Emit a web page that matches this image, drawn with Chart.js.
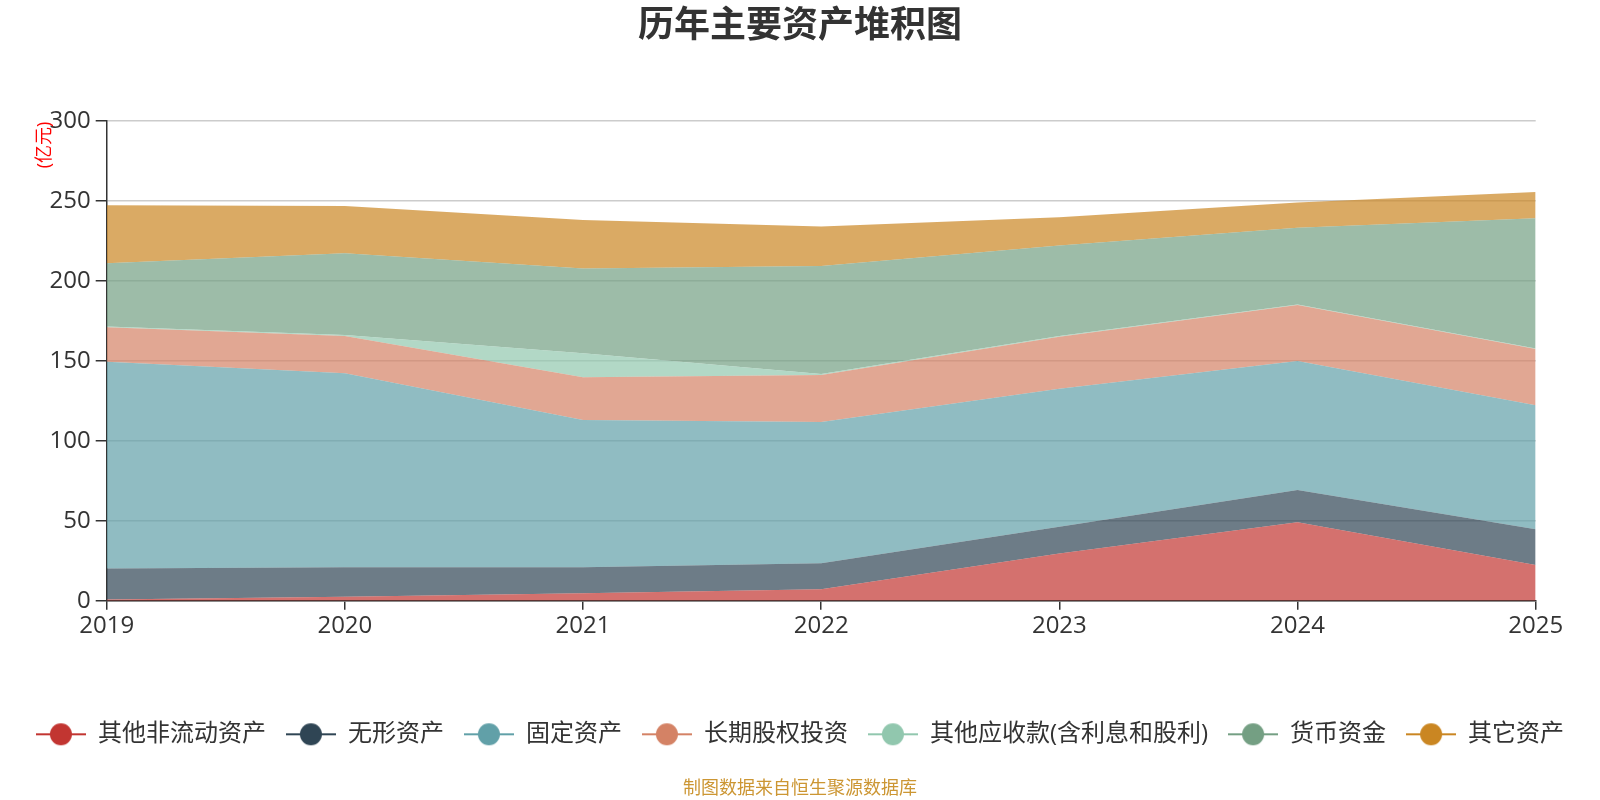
<!DOCTYPE html>
<html>
<head>
<meta charset="utf-8">
<script src="https://cdn.jsdelivr.net/npm/chart.js@4/dist/chart.umd.min.js"></script>
<style>
  html, body { margin: 0; padding: 0; background: #fff; }
  #wrap { width: 1600px; height: 800px; }
</style>
</head>
<body>
<div id="wrap"><canvas id="assetChart" width="1600" height="800"></canvas></div>
<script>
var years = ['2019', '2020', '2021', '2022', '2023', '2024', '2025'];
var seriesNames = ['其他非流动资产', '无形资产', '固定资产', '长期股权投资', '其他应收款(含利息和股利)', '货币资金', '其它资产'];
var seriesColors = ['#c23531', '#2f4554', '#61a0a8', '#d48265', '#91c7ae', '#749f83', '#ca8622'];

// 亿元
var otherNonCurrent = [0.8, 2.5, 4.6, 7.1, 29.5, 49.0, 22.3];
var intangible      = [19.4, 18.4, 16.3, 16.3, 16.7, 20.2, 22.3];
var fixedAssets     = [129.2, 121.2, 92.0, 88.3, 86.3, 80.6, 77.5];
var lteInvest       = [21.5, 23.3, 26.7, 29.4, 32.5, 35.0, 35.2];
var otherRecv       = [0.5, 0.6, 15.0, 0.6, 0.4, 0.3, 0.4];
var cash            = [39.5, 51.1, 53.1, 67.5, 56.6, 48.0, 81.3];
var otherAssets     = [36.2, 29.6, 30.2, 24.6, 17.7, 15.7, 16.4];
var yTicks = [0, 50, 100, 150, 200, 250, 300];

var seriesValues = [otherNonCurrent, intangible, fixedAssets, lteInvest, otherRecv, cash, otherAssets];
var FONT = "'Open Sans', 'Noto Sans CJK SC', sans-serif";

function alpha(hex, a) {
    var n = parseInt(hex.slice(1), 16);
    return 'rgba(' + (n >> 16) + ',' + ((n >> 8) & 255) + ',' + (n & 255) + ',' + a + ')';
}

// legend icon: line with a dot in the middle
function legendIcon(color) {
    var c = document.createElement('canvas');
    c.width = 50; c.height = 24;
    var g = c.getContext('2d');
    g.strokeStyle = color;
    g.lineWidth = 2;
    g.beginPath(); g.moveTo(0, 12); g.lineTo(50, 12); g.stroke();
    g.fillStyle = color;
    g.beginPath(); g.arc(25, 12, 11, 0, Math.PI * 2); g.fill();
    return c;
}

var datasets = seriesValues.map(function (vals, i) {
    return {
        label: seriesNames[i],
        data: vals,
        backgroundColor: alpha(seriesColors[i], 0.7),
        borderColor: alpha(seriesColors[i], 0.0),
        borderWidth: 0,
        pointRadius: 0,
        pointHoverRadius: 0,
        pointStyle: legendIcon(seriesColors[i]),
        tension: 0,
        fill: i === 0 ? 'origin' : '-1'
    };
});

var extras = {
    id: 'extras',
    afterDraw: function (chart) {
        var ctx = chart.ctx;
        ctx.save();
        ctx.textAlign = 'center';
        ctx.textBaseline = 'middle';
        ctx.fillStyle = '#333';
        ctx.font = 'bold 36px ' + FONT;
        ctx.fillText('历年主要资产堆积图', 800, 27);

        ctx.fillStyle = '#cc9633';
        ctx.font = '18px ' + FONT;
        ctx.fillText('制图数据来自恒生聚源数据库', 800, 789);

        ctx.translate(45, 145);
        ctx.rotate(-Math.PI / 2);
        ctx.fillStyle = '#ff0000';
        ctx.font = '18px ' + FONT;
        ctx.fillText('(亿元)', 0, 0);
        ctx.restore();
    }
};

new Chart(document.getElementById('assetChart'), {
    type: 'line',
    data: { labels: years, datasets: datasets },
    plugins: [extras],
    options: {
        responsive: false,
        animation: false,
        layout: { padding: { top: 120.7, left: 0, right: 0, bottom: 43.7 } },
        plugins: {
            title: { display: false },
            tooltip: { enabled: false },
            legend: {
                position: 'bottom',
                labels: {
                    usePointStyle: true,
                    pointStyleWidth: 50,
                    padding: 20,
                    color: '#333',
                    font: { size: 24, family: FONT }
                }
            }
        },
        scales: {
            x: {
                offset: false,
                afterFit: function (s) { s.height = 101.6; },
                grid: { drawOnChartArea: false, drawTicks: true, tickLength: 9, tickColor: '#333', lineWidth: 1.5 },
                border: { color: '#333', width: 1.5 },
                ticks: { color: '#333', padding: 2, maxRotation: 0, font: { size: 24, family: FONT } }
            },
            y: {
                stacked: true,
                min: 0,
                max: 300,
                afterFit: function (s) { s.width = 106.7; },
                afterBuildTicks: function (s) { s.ticks = yTicks.map(function (v) { return { value: v }; }); },
                grid: { color: '#ccc', lineWidth: 1.5, tickLength: 11, tickColor: '#333' },
                border: { color: '#333', width: 1.5 },
                ticks: { color: '#333', padding: 5, font: { size: 24, family: FONT } }
            },
            yRight: {
                position: 'right',
                display: true,
                afterFit: function (s) { s.width = 64.3; },
                grid: { display: false },
                border: { display: false },
                ticks: { display: false }
            }
        }
    }
});
</script>
</body>
</html>
